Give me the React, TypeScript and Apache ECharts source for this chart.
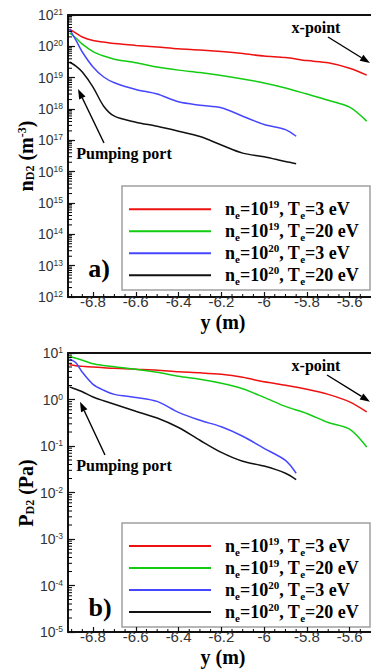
import React, { useEffect, useRef } from 'react';
import * as echarts from 'echarts';

// ---- axis ranges ----
const X_MIN = -6.917;
const X_MAX = -5.5;
const N_MIN = 1e12;
const N_MAX = 1e21;
const P_MIN = 1e-5;
const P_MAX = 1e1;

const X_MAJOR_TICKS = [-6.8, -6.6, -6.4, -6.2, -6.0, -5.8, -5.6];
const X_MINOR_TICKS = [-6.9, -6.85, -6.75, -6.7, -6.65, -6.55, -6.5, -6.45, -6.35, -6.3, -6.25, -6.15, -6.1, -6.05, -5.95, -5.9, -5.85, -5.75, -5.7, -5.65, -5.55];
const MINOR_MULT = [2, 3, 4, 5, 6, 7, 8, 9];
const N_DECADES = [12, 13, 14, 15, 16, 17, 18, 19, 20];
const P_DECADES = [-5, -4, -3, -2, -1, 0];

// ---- positions along y (m) ----
const posLong = [-6.91, -6.88, -6.85, -6.8, -6.75, -6.7, -6.6, -6.5, -6.4, -6.3, -6.2, -6.1, -6.0, -5.9, -5.8, -5.7, -5.6, -5.52];
const posShort = [-6.91, -6.88, -6.85, -6.8, -6.75, -6.7, -6.6, -6.5, -6.4, -6.3, -6.2, -6.1, -6.0, -5.9, -5.85];

// ---- (a) n_D2 (m^-3) ----
const nRed = [3.57e20, 2.66e20, 1.98e20, 1.53e20, 1.37e20, 1.23e20, 1.07e20, 9.5e19, 8.3e19, 7.6e19, 6.8e19, 5.9e19, 4.9e19, 4.4e19, 3.5e19, 3.0e19, 2.0e19, 1.2e19];
const nGreen = [2.66e20, 1.84e20, 1.17e20, 6.8e19, 4.9e19, 3.9e19, 3.0e19, 2.2e19, 1.74e19, 1.45e19, 1.17e19, 9.1e18, 6.8e18, 4.7e18, 3.0e18, 1.9e18, 1.15e18, 4.1e17];
const nBlue = [3.57e20, 1.58e20, 6.6e19, 2.2e19, 1.05e19, 6.9e18, 4.2e18, 3.0e18, 1.7e18, 1.32e18, 1.1e18, 5.9e17, 3.2e17, 2.2e17, 1.35e17];
const nBlack = [3.16e19, 2.34e19, 1.51e19, 5.0e18, 1.23e18, 5.9e17, 3.8e17, 2.8e17, 1.95e17, 1.32e17, 7.1e16, 3.9e16, 3.0e16, 2.1e16, 1.8e16];

// ---- (b) P_D2 (Pa) ----
const pRed = [5.57, 5.31, 5.18, 5.0, 4.81, 4.69, 4.46, 4.25, 3.94, 3.75, 3.48, 3.0, 2.4, 2.02, 1.66, 1.29, 0.89, 0.54];
const pGreen = [8.5, 7.7, 7.0, 5.9, 5.4, 5.05, 4.46, 3.85, 3.15, 2.72, 2.23, 1.7, 1.11, 0.71, 0.5, 0.32, 0.23, 0.095];
const pBlue = [7.5, 6.15, 3.85, 2.12, 1.58, 1.29, 1.11, 0.91, 0.53, 0.357, 0.259, 0.162, 0.089, 0.049, 0.026];
const pBlack = [1.87, 1.66, 1.47, 1.13, 0.94, 0.79, 0.56, 0.4, 0.25, 0.133, 0.073, 0.047, 0.037, 0.026, 0.019];

const SERIES_KEYS = ['r', 'g', 'b', 'k'];
const SERIES_COLORS = ['#ee1111', '#11cc11', '#4646ff', '#111111'];
const LEGEND_NE = ['19', '19', '20', '20'];
const LEGEND_TE = ['3', '20', '3', '20'];

const SERIF = "'Liberation Serif', 'Times New Roman', serif";
const SANS = "'Liberation Sans', Arial, sans-serif";

const G1 = { left: 68, top: 15, width: 307, height: 282 };
const G2 = { left: 68, top: 353, width: 307, height: 279 };

function zip(xs: number[], ys: number[]) {
  return ys.map((v, i) => [xs[i], v]);
}

function arrow(tail: number[], tip: number[]) {
  const dx = tip[0] - tail[0];
  const dy = tip[1] - tail[1];
  const len = Math.sqrt(dx * dx + dy * dy);
  const ux = dx / len, uy = dy / len;
  const hl = 10, hw = 3.5;
  const bx = tip[0] - ux * hl, by = tip[1] - uy * hl;
  const px = -uy * hw, py = ux * hw;
  return [
    { type: 'line', shape: { x1: tail[0], y1: tail[1], x2: bx, y2: by }, style: { stroke: '#000', lineWidth: 1.4 } },
    { type: 'polygon', shape: { points: [[tip[0], tip[1]], [bx + px, by + py], [bx - px, by - py]] }, style: { fill: '#000' } },
  ];
}

function txt(x: number, y: number, text: string, size: number, extra: any = {}) {
  return {
    type: 'text', x, y, z: 10,
    style: {
      text, fill: '#000', font: `bold ${size}px ${SERIF}`,
      textAlign: 'center', textVerticalAlign: 'middle', ...extra,
    },
  };
}

const logLabel = (v: number) => {
  const e = Math.round(Math.log10(v));
  return `{b|10}{s|${e}}`;
};

const labelRich = {
  b: { fontSize: 14, fontFamily: SANS, color: '#333' },
  s: { fontSize: 8.5, fontFamily: SANS, color: '#333', verticalAlign: 'top', padding: [0, 0, 6, 0] },
};

function yMinorSeries(xIdx: number, yIdx: number, decades: number[]) {
  const vals: number[] = [];
  decades.forEach((d) => MINOR_MULT.forEach((m) => vals.push(m * Math.pow(10, d))));
  return {
    type: 'custom', xAxisIndex: xIdx, yAxisIndex: yIdx, silent: true, z: 5,
    data: vals.map((v) => [X_MIN, v]),
    renderItem: (_p: any, api: any) => {
      const p = api.coord([api.value(0), api.value(1)]);
      return { type: 'line', shape: { x1: p[0], y1: p[1], x2: p[0] + 4, y2: p[1] }, style: { stroke: '#000', lineWidth: 1 } };
    },
  };
}

function xMinorSeries(xIdx: number, yIdx: number, yMin: number) {
  return {
    type: 'custom', xAxisIndex: xIdx, yAxisIndex: yIdx, silent: true, z: 5,
    data: X_MINOR_TICKS.map((v) => [v, yMin]),
    renderItem: (_p: any, api: any) => {
      const p = api.coord([api.value(0), api.value(1)]);
      return { type: 'line', shape: { x1: p[0], y1: p[1], x2: p[0], y2: p[1] - 3 }, style: { stroke: '#000', lineWidth: 1 } };
    },
  };
}

function mainXAxis(gridIndex: number, margin: number) {
  return {
    type: 'value', gridIndex, min: X_MIN, max: X_MAX, position: 'bottom',
    axisLine: { show: true, onZero: false, lineStyle: { color: '#111', width: 2 } },
    axisTick: { show: true, inside: true, length: 5, customValues: X_MAJOR_TICKS, lineStyle: { color: '#111', width: 1.2 } },
    axisLabel: {
      show: true, customValues: X_MAJOR_TICKS, margin, fontSize: 15, lineHeight: 15, fontFamily: SANS, color: '#333',
      formatter: (v: number) => String(Math.round(v * 10) / 10),
    },
    splitLine: { show: false },
  };
}

function frameXAxis(gridIndex: number) {
  return {
    type: 'value', gridIndex, min: X_MIN, max: X_MAX, position: 'top',
    axisLine: { show: true, onZero: false, lineStyle: { color: '#111', width: 2 } },
    axisTick: { show: false }, axisLabel: { show: false }, splitLine: { show: false },
  };
}

function logYAxis(gridIndex: number, min: number, max: number) {
  return {
    type: 'log', logBase: 10, gridIndex, min, max,
    axisLine: { show: true, onZero: false, lineStyle: { color: '#111', width: 2 } },
    axisTick: { show: true, inside: true, length: 7, lineStyle: { color: '#111', width: 1.2 } },
    axisLabel: { show: true, margin: 5, formatter: logLabel, rich: labelRich },
    splitLine: { show: false },
    minorTick: { show: false },
  };
}

const legendRich = {
  t: { fontFamily: SERIF, fontWeight: 'bold', fontSize: 18, lineHeight: 22, color: '#000' },
  sub: { fontFamily: SERIF, fontWeight: 'bold', fontSize: 11, color: '#000', verticalAlign: 'bottom', padding: [0, 0, 0, 0] },
  sup: { fontFamily: SERIF, fontWeight: 'bold', fontSize: 11, color: '#000', verticalAlign: 'top' },
};

function legendAt(top: number) {
  return {
    show: true, orient: 'vertical', left: 129, top, padding: 0, itemGap: 0,
    itemWidth: 82, itemHeight: 2, icon: 'rect', selectedMode: false,
    data: SERIES_KEYS,
    formatter: (name: string) => {
      const i = SERIES_KEYS.indexOf(name);
      return `{t|n}{sub|e}{t|=10}{sup|${LEGEND_NE[i]}}{t|, T}{sub|e}{t|=${LEGEND_TE[i]} eV}`;
    },
    textStyle: { padding: [0, 0, 0, 9], rich: legendRich },
  };
}

const titleRich = {
  b: { fontFamily: SERIF, fontWeight: 'bold', fontSize: 20, color: '#000' },
  sub: { fontFamily: SERIF, fontWeight: 'bold', fontSize: 12, color: '#000', verticalAlign: 'bottom' },
  sup: { fontFamily: SERIF, fontWeight: 'bold', fontSize: 12, color: '#000', verticalAlign: 'top' },
};

export default function App() {
  const ref = useRef<HTMLDivElement>(null);
  useEffect(() => {
    if (!ref.current) return;
    const chart = echarts.init(ref.current, undefined, { renderer: 'svg' });
    const topSets = [nRed, nGreen, nBlue, nBlack];
    const botSets = [pRed, pGreen, pBlue, pBlack];
    const pos = [posLong, posLong, posShort, posShort];
    const lines: any[] = [];
    SERIES_KEYS.forEach((k, i) => {
      lines.push({
        type: 'line', name: k, xAxisIndex: 0, yAxisIndex: 0, data: zip(pos[i], topSets[i]),
        showSymbol: false, smooth: 0.3, color: SERIES_COLORS[i], lineStyle: { width: 1.5, color: SERIES_COLORS[i] }, z: 3,
      });
      lines.push({
        type: 'line', name: k, xAxisIndex: 2, yAxisIndex: 1, data: zip(pos[i], botSets[i]),
        showSymbol: false, smooth: 0.3, color: SERIES_COLORS[i], lineStyle: { width: 1.5, color: SERIES_COLORS[i] }, z: 3,
      });
    });

    const graphics: any[] = [
      { type: 'rect', z: 0, shape: { x: 122, y: 186, width: 248, height: 104 }, style: { fill: '#fff', stroke: '#a0a0a0', lineWidth: 1.5 } },
      { type: 'rect', z: 0, shape: { x: 122, y: 523, width: 248, height: 104 }, style: { fill: '#fff', stroke: '#a0a0a0', lineWidth: 1.5 } },
      txt(316, 27, 'x-point', 16),
      txt(316, 365, 'x-point', 16),
      txt(124, 153, 'Pumping port', 16),
      txt(124, 465, 'Pumping port', 16),
      txt(99, 268, 'a)', 26),
      txt(100, 607, 'b)', 26),
      txt(223, 322, 'y (m)', 20),
      txt(223, 657, 'y (m)', 20),
      {
        type: 'text', x: 26, y: 156, rotation: Math.PI / 2, z: 10,
        style: { text: '{b|n}{sub|D2}{b| (m}{sup|-3}{b|)}', rich: titleRich, textAlign: 'center', textVerticalAlign: 'middle' },
      },
      {
        type: 'text', x: 26, y: 493, rotation: Math.PI / 2, z: 10,
        style: { text: '{b|P}{sub|D2}{b| (Pa)}', rich: titleRich, textAlign: 'center', textVerticalAlign: 'middle' },
      },
      ...arrow([328, 37], [370, 63]),
      ...arrow([327, 375], [370, 401.7]),
      ...arrow([104, 143], [78, 89]),
      ...arrow([105, 455], [80, 401.7]),
    ];

    chart.setOption({
      animation: false,
      backgroundColor: '#fff',
      grid: [
        { ...G1, containLabel: false },
        { ...G2, containLabel: false },
      ],
      xAxis: [mainXAxis(0, -3), frameXAxis(0), mainXAxis(1, -3), frameXAxis(1)],
      yAxis: [logYAxis(0, N_MIN, N_MAX), logYAxis(1, P_MIN, P_MAX)],
      legend: [legendAt(198.3), legendAt(535)],
      graphic: graphics,
      series: [
        ...lines,
        yMinorSeries(0, 0, N_DECADES),
        yMinorSeries(2, 1, P_DECADES),
        xMinorSeries(0, 0, N_MIN),
        xMinorSeries(2, 1, P_MIN),
      ],
    });
    return () => chart.dispose();
  }, []);
  return (
    <div style={{ position: 'absolute', left: 0, top: 0, width: 371, height: 670, overflow: 'hidden', background: '#fff' }}>
      <div ref={ref} style={{ width: 371, height: 670 }} />
    </div>
  );
}
